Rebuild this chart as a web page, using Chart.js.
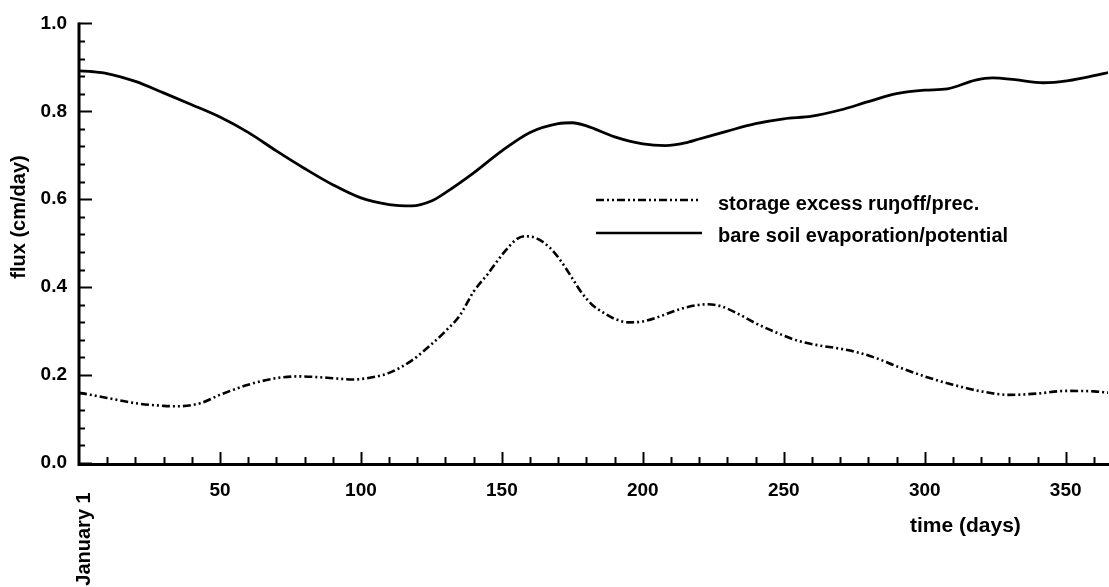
<!DOCTYPE html>
<html>
<head>
<meta charset="utf-8">
<script src="https://cdn.jsdelivr.net/npm/chart.js@4/dist/chart.umd.min.js"></script>
<style>
  html, body { margin: 0; padding: 0; background: #fff; }
  #wrap { width: 1109px; height: 587px; position: relative; }
</style>
</head>
<body>
<div id="wrap"><canvas id="c" width="1109" height="587"></canvas></div>
<script>
// ---- data ----
const evapDays = [0, 5, 10, 20, 30, 40, 50, 60, 70, 80, 90, 100, 110, 118, 125, 130, 140, 150, 160, 170, 175, 180, 190, 200, 208, 215, 220, 230, 240, 250, 260, 270, 280, 290, 300, 308, 318, 324, 332, 342, 351, 360, 365];
const evapValues = [0.892, 0.890, 0.886, 0.868, 0.842, 0.815, 0.787, 0.752, 0.710, 0.670, 0.633, 0.603, 0.588, 0.585, 0.596, 0.615, 0.660, 0.710, 0.752, 0.772, 0.774, 0.767, 0.742, 0.726, 0.722, 0.728, 0.737, 0.755, 0.772, 0.783, 0.789, 0.803, 0.822, 0.840, 0.848, 0.851, 0.871, 0.876, 0.872, 0.865, 0.870, 0.881, 0.888];

const runoffDays = [0, 10, 20, 30, 35, 43, 50, 60, 70, 78, 88, 97, 105, 110, 118, 125, 130, 135, 140, 145, 150, 155, 158, 162, 167, 171, 175, 178, 182, 186, 190, 195, 200, 205, 210, 216, 223, 228, 233, 240, 248, 255, 262, 270, 276, 283, 290, 300, 310, 320, 330, 340, 350, 360, 365];
const runoffValues = [0.160, 0.148, 0.136, 0.130, 0.129, 0.136, 0.155, 0.178, 0.193, 0.197, 0.194, 0.190, 0.196, 0.205, 0.233, 0.270, 0.300, 0.335, 0.390, 0.430, 0.473, 0.508, 0.516, 0.512, 0.490, 0.459, 0.420, 0.390, 0.360, 0.342, 0.328, 0.320, 0.322, 0.331, 0.343, 0.355, 0.361, 0.356, 0.342, 0.318, 0.295, 0.278, 0.268, 0.260, 0.252, 0.238, 0.220, 0.197, 0.178, 0.163, 0.155, 0.158, 0.164, 0.163, 0.160];

const xTickLabels = [50, 100, 150, 200, 250, 300, 350];
const yTickLabels = [0.0, 0.2, 0.4, 0.6, 0.8, 1.0];
const seriesNames = ["storage excess ruŋoff/prec.", "bare soil evaporation/potential"];
const xTitle = "time (days)";
const yTitle = "flux (cm/day)";
const startLabel = "January 1";

// ---- styling ----
const FONT = "'Liberation Sans', Arial, Helvetica, sans-serif";
const INK = "#000";
const runoffDash = [8, 3, 2, 3, 2, 3];

const toPts = (xs, ys) => xs.map((x, i) => ({ x: x, y: ys[i] }));

const axesPlugin = {
  id: 'axesPlugin',
  afterDraw(chart) {
    const ctx = chart.ctx;
    const xs = chart.scales.x, ys = chart.scales.y;
    const x0 = xs.getPixelForValue(0);
    const y0 = ys.getPixelForValue(0);
    const yTop = ys.getPixelForValue(1.0);
    const xEnd = xs.getPixelForValue(365);
    ctx.save();
    ctx.strokeStyle = INK;
    ctx.lineCap = 'butt';
    // axis lines
    ctx.lineWidth = 3;
    ctx.beginPath();
    ctx.moveTo(x0, yTop - 1);
    ctx.lineTo(x0, y0 + 1.5);
    ctx.lineTo(xEnd + 1, y0 + 1.5);
    ctx.stroke();
    // y ticks (inward)
    ctx.lineWidth = 2;
    for (let i = 0; i <= 25; i++) {
      const v = i * 0.04;
      const py = Math.round(ys.getPixelForValue(v)) + 0.5;
      const major = (i % 5 === 0);
      ctx.beginPath();
      ctx.moveTo(x0, py);
      ctx.lineTo(x0 + (major ? 13 : 6), py);
      ctx.stroke();
    }
    // x ticks (inward)
    for (let d = 10; d <= 360; d += 10) {
      const px = Math.round(xs.getPixelForValue(d)) + 0.5;
      const major = (d % 50 === 0);
      ctx.beginPath();
      ctx.moveTo(px, y0);
      ctx.lineTo(px, y0 - (major ? 11 : 6));
      ctx.stroke();
    }
    // titles
    ctx.fillStyle = INK;
    ctx.font = "bold 21px " + FONT;
    ctx.textAlign = 'left';
    ctx.textBaseline = 'middle';
    ctx.fillText(xTitle, 910, 526);
    // y title rotated
    ctx.save();
    ctx.font = "bold 20px " + FONT;
    ctx.translate(19, 217);
    ctx.rotate(-Math.PI / 2);
    ctx.textAlign = 'center';
    ctx.fillText(yTitle, 0, 0);
    ctx.restore();
    // January 1 rotated under the origin
    ctx.save();
    ctx.font = "bold 20px " + FONT;
    ctx.translate(x0 + 5, 539);
    ctx.rotate(-Math.PI / 2);
    ctx.textAlign = 'center';
    ctx.fillText(startLabel, 0, 0);
    ctx.restore();
    // legend
    ctx.font = "bold 20px " + FONT;
    ctx.textAlign = 'left';
    ctx.lineWidth = 2.6;
    ctx.setLineDash(runoffDash);
    ctx.beginPath();
    ctx.moveTo(596, 200); ctx.lineTo(700, 200);
    ctx.stroke();
    ctx.setLineDash([]);
    ctx.lineWidth = 2.6;
    ctx.beginPath();
    ctx.moveTo(596, 233); ctx.lineTo(702, 233);
    ctx.stroke();
    ctx.fillText(seriesNames[0], 718, 204);
    ctx.fillText(seriesNames[1], 718, 236);
    ctx.restore();
  }
};

new Chart(document.getElementById('c'), {
  type: 'line',
  data: {
    datasets: [
      {
        label: seriesNames[0],
        data: toPts(runoffDays, runoffValues),
        borderColor: INK,
        borderWidth: 2.6,
        borderDash: runoffDash,
        pointRadius: 0,
        cubicInterpolationMode: 'monotone',
        fill: false
      },
      {
        label: seriesNames[1],
        data: toPts(evapDays, evapValues),
        borderColor: INK,
        borderWidth: 2.8,
        pointRadius: 0,
        cubicInterpolationMode: 'monotone',
        fill: false
      }
    ]
  },
  options: {
    responsive: false,
    animation: false,
    devicePixelRatio: 1,
    layout: { padding: { top: 20, right: 1, left: 0, bottom: 0 } },
    plugins: { legend: { display: false }, tooltip: { enabled: false } },
    scales: {
      x: {
        type: 'linear',
        min: 0, max: 365,
        grid: { display: false, drawTicks: false },
        border: { display: false },
        afterBuildTicks(scale) { scale.ticks = xTickLabels.map(v => ({ value: v })); },
        afterFit(scale) { scale.height = 124; },
        ticks: {
          color: INK,
          padding: 16,
          maxRotation: 0,
          autoSkip: false,
          font: { family: FONT, size: 19, weight: 'bold' },
          callback: v => String(v)
        }
      },
      y: {
        type: 'linear',
        min: 0, max: 1.0,
        grid: { display: false, drawTicks: false },
        border: { display: false },
        afterBuildTicks(scale) { scale.ticks = yTickLabels.map(v => ({ value: v })); },
        afterFit(scale) { scale.width = 79; },
        ticks: {
          color: INK,
          padding: 12,
          autoSkip: false,
          font: { family: FONT, size: 19, weight: 'bold' },
          callback: v => Number(v).toFixed(1)
        }
      }
    }
  },
  plugins: [axesPlugin]
});
</script>
</body>
</html>
